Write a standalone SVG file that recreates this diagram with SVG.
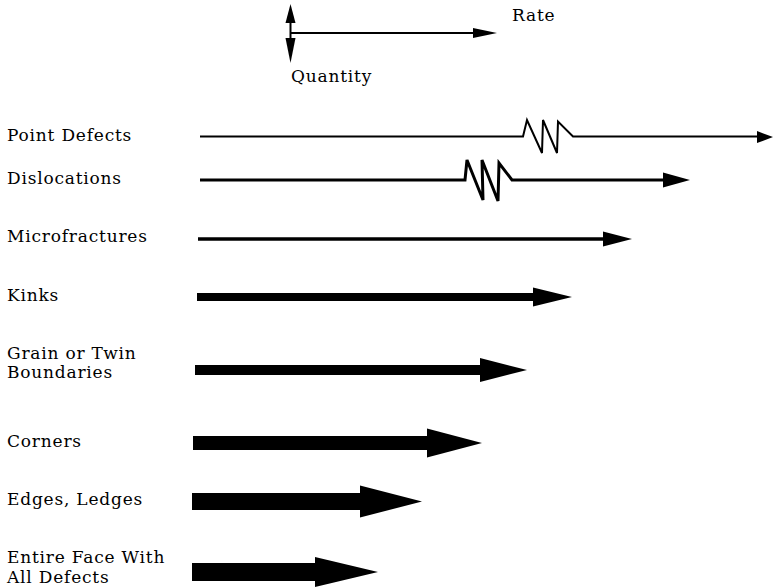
<svg xmlns="http://www.w3.org/2000/svg" width="773" height="588" viewBox="0 0 773 588">
  <style>
    text { font-family: "DejaVu Serif", "Liberation Serif", serif; font-size: 17px; letter-spacing: 0.8px; fill: #000; }
    .shaft { stroke: #000; fill: none; stroke-linecap: butt; stroke-linejoin: miter; }
    .head { fill: #000; stroke: none; }
  </style>
  <rect width="773" height="588" fill="#fff"/>

  <!-- axis key: quantity (vertical) and rate (horizontal) -->
  <g id="axes">
    <line class="shaft" x1="290.5" y1="20" x2="290.5" y2="40" stroke-width="2"/>
    <polygon class="head" points="285.5,23 290.5,4 295.5,23"/>
    <polygon class="head" points="285.5,38 290.5,63 295.5,38"/>
    <line class="shaft" x1="290" y1="33" x2="475" y2="33" stroke-width="2"/>
    <polygon class="head" points="473,28 497,33 473,38"/>
    <text x="512" y="21">Rate</text>
    <text x="291" y="82">Quantity</text>
  </g>

  <g id="point-defects">
    <text x="7" y="141">Point Defects</text>
    <polyline class="shaft" stroke-width="2" points="200,136.5 523,136.5 527,120 542,153 543,120 557,153 558,121.5 573,136.5 758,136.5"/>
    <polygon class="head" points="757,131 773,137 757,143"/>
  </g>

  <g id="dislocations">
    <text x="7" y="184">Dislocations</text>
    <polyline class="shaft" stroke-width="3" points="200,180 465,180 467,160 483,200 482,160 498,201 499,163 512,180 665,180"/>
    <polygon class="head" points="663,172.5 690,180 663,187.5"/>
  </g>

  <g id="microfractures">
    <text x="7" y="242">Microfractures</text>
    <line class="shaft" stroke-width="3.5" x1="198" y1="239" x2="605" y2="239"/>
    <polygon class="head" points="603,231.5 632,239 603,246.5"/>
  </g>

  <g id="kinks">
    <text x="7" y="301">Kinks</text>
    <line class="shaft" stroke-width="8" x1="197" y1="297" x2="535" y2="297"/>
    <polygon class="head" points="533,287.5 572,297 533,306.5"/>
  </g>

  <g id="grain-twin-boundaries">
    <text x="7" y="359">Grain or Twin</text>
    <text x="7" y="378">Boundaries</text>
    <line class="shaft" stroke-width="10" x1="195" y1="370" x2="482" y2="370"/>
    <polygon class="head" points="480,358 527,370 480,382"/>
  </g>

  <g id="corners">
    <text x="7" y="447">Corners</text>
    <line class="shaft" stroke-width="14" x1="193" y1="443" x2="429" y2="443"/>
    <polygon class="head" points="427,428.5 482,443 427,457.5"/>
  </g>

  <g id="edges-ledges">
    <text x="7" y="505">Edges, Ledges</text>
    <line class="shaft" stroke-width="17" x1="192" y1="501.5" x2="362" y2="501.5"/>
    <polygon class="head" points="360,485.5 422,501.5 360,517.5"/>
  </g>

  <g id="entire-face">
    <text x="7" y="563">Entire Face With</text>
    <text x="7" y="583">All Defects</text>
    <line class="shaft" stroke-width="18" x1="192" y1="572" x2="317" y2="572"/>
    <polygon class="head" points="315,557 378,572 315,587"/>
  </g>
</svg>
